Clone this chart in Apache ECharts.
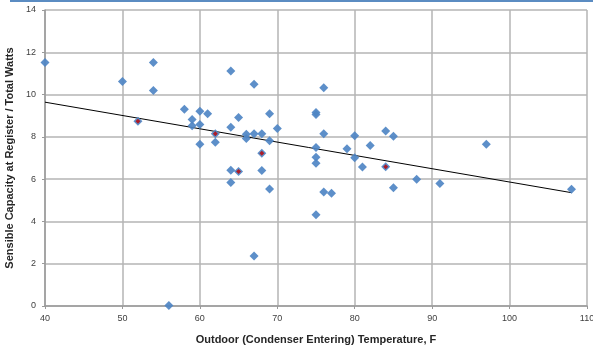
<!DOCTYPE html>
<html>
<head>
<meta charset="utf-8">
<script src="https://cdn.jsdelivr.net/npm/echarts@6/dist/echarts.min.js"></script>
<style>
  html, body { margin: 0; padding: 0; background: #fff; }
  #chart { width: 593px; height: 348px; }
</style>
</head>
<body>
<div id="chart"></div>
<script>
"use strict";

// measured points: outdoor temp (F) vs sensible capacity ratio
const tempF = [40, 50, 54, 54, 52, 58, 59, 59, 60, 60, 60, 61, 62, 62, 64, 64, 65, 67, 66, 66,
  67, 68, 69, 69, 70, 68, 64, 65, 68, 64, 69, 67, 56,
  76, 75, 75, 76, 75, 75, 75, 79, 80, 80, 81, 82, 84, 85, 84, 97,
  75, 76, 77, 85, 88, 91, 108];
const capRatio = [11.52, 10.62, 11.52, 10.19, 8.74, 9.3, 8.82, 8.53, 9.21, 8.59, 7.65, 9.09, 8.15, 7.75, 11.12, 8.45, 8.91, 10.49, 8.12, 7.92,
  8.15, 8.15, 9.09, 7.82, 8.39, 7.22, 6.42, 6.36, 6.41, 5.84, 5.53, 2.36, 0.02,
  10.32, 9.06, 9.15, 8.15, 7.5, 7.03, 6.75, 7.44, 8.05, 7.01, 6.58, 7.59, 8.28, 8.03, 6.59, 7.65,
  4.32, 5.39, 5.33, 5.59, 5.99, 5.79, 5.52];

// points drawn with a red centre
const redTemp = [52, 62, 68, 65, 84];
const redCap = [8.74, 8.15, 7.22, 6.36, 6.59];

// linear trend line end points
const trendTemp = [40, 108];
const trendCap = [9.64, 5.36];

const xTicks = { min: 40, max: 110, step: 10 };
const yTicks = { min: 0, max: 14, step: 2 };

const zip = (a, b) => a.map((v, i) => [v, b[i]]);

let myChart = echarts.init(document.getElementById('chart'), null, { renderer: 'canvas' });

const gridColor = '#b4b4b4';
const labelStyle = { color: '#404040', fontSize: 9, fontFamily: 'Liberation Sans, Arial, sans-serif' };
const nameStyle = { color: '#262626', fontSize: 11, fontWeight: 'bold', fontFamily: 'Liberation Sans, Arial, sans-serif' };

let option = {
  animation: false,
  graphic: [
    {
      type: 'rect',
      left: 10, top: 0,
      shape: { width: 583, height: 2 },
      style: { fill: '#5b8cc2' },
    },
  ],
  grid: { left: 45, right: 6, top: 10, bottom: 42, containLabel: false, outerBoundsMode: 'none' },
  xAxis: {
    type: 'value',
    min: xTicks.min, max: xTicks.max, interval: xTicks.step,
    name: 'Outdoor (Condenser Entering) Temperature, F',
    nameLocation: 'middle',
    nameGap: 28,
    nameTextStyle: nameStyle,
    axisLine: { lineStyle: { color: '#9a9a9a', width: 1.5 } },
    axisTick: { show: true, length: 3, lineStyle: { color: '#9a9a9a' } },
    axisLabel: Object.assign({ margin: 8 }, labelStyle),
    splitLine: { show: true, lineStyle: { color: gridColor, width: 1.5 } },
  },
  yAxis: {
    type: 'value',
    min: yTicks.min, max: yTicks.max, interval: yTicks.step,
    name: 'Sensible Capacity at Register / Total Watts',
    nameLocation: 'middle',
    nameGap: 22,
    nameTextStyle: nameStyle,
    axisLine: { show: true, lineStyle: { color: '#9a9a9a', width: 1.5 } },
    axisTick: { show: true, length: 3, lineStyle: { color: '#9a9a9a' } },
    axisLabel: Object.assign({ margin: 9 }, labelStyle),
    splitLine: { show: true, lineStyle: { color: gridColor, width: 1.5 } },
  },
  series: [
    {
      type: 'line',
      data: zip(trendTemp, trendCap),
      symbol: 'none',
      lineStyle: { color: '#000', width: 1 },
      z: 3,
    },
    {
      type: 'scatter',
      data: zip(tempF, capRatio),
      symbol: 'diamond',
      symbolSize: 9,
      itemStyle: { color: '#4f86c4', opacity: 0.92 },
      z: 4,
    },
    {
      type: 'scatter',
      data: zip(redTemp, redCap),
      symbol: 'diamond',
      symbolSize: 5,
      itemStyle: { color: '#c00000' },
      z: 5,
    },
  ],
};

myChart.setOption(option);
</script>
</body>
</html>
